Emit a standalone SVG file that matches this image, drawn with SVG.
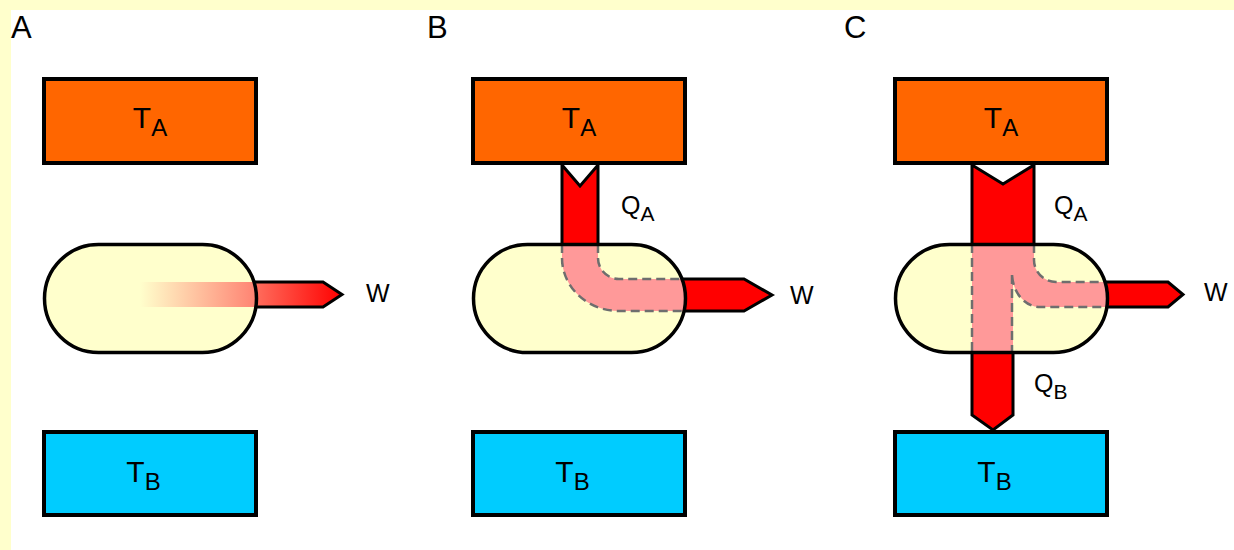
<svg xmlns="http://www.w3.org/2000/svg" width="1234" height="550" viewBox="0 0 1234 550">
<style>
.hot{fill:#ff6600;stroke:#000;stroke-width:4}
.cold{fill:#00ccff;stroke:#000;stroke-width:4}
.capf{fill:#ffffcc}
.caps{fill:none;stroke:#000;stroke-width:3.5}
.arr{fill:#ff0000;stroke:#000;stroke-width:3;stroke-linejoin:miter}
.band{fill:#ff9999}
.dash{fill:none;stroke:#6e6e6e;stroke-width:2.5;stroke-dasharray:9 5}
.lbl{font-family:"Liberation Sans",Arial,sans-serif;fill:#000}
.big{font-size:30px}
.flow{font-size:25px}
.pan{font-size:31px}
</style>
<defs>
<linearGradient id="gIn" gradientUnits="userSpaceOnUse" x1="140" y1="0" x2="258" y2="0"><stop offset="0" stop-color="#ffffcc"/><stop offset="1" stop-color="#ff8070"/></linearGradient>
<linearGradient id="gOut" gradientUnits="userSpaceOnUse" x1="258" y1="0" x2="342" y2="0"><stop offset="0" stop-color="#ff6a5a"/><stop offset="1" stop-color="#ff0000"/></linearGradient>
<clipPath id="cA"><rect x="44.5" y="244.5" width="212" height="108" rx="54"/></clipPath>
<clipPath id="cB"><rect x="473.5" y="244.5" width="212" height="108" rx="54"/></clipPath>
<clipPath id="cC"><rect x="895.5" y="244.5" width="212" height="108" rx="54"/></clipPath>
</defs>
<rect x="0" y="0" width="1234" height="550" fill="#ffffcc"/>
<rect x="11" y="10" width="1223" height="540" fill="#ffffff"/>

<g id="panel-labels" class="lbl pan">
<text x="11" y="38">A</text>
<text x="427" y="38">B</text>
<text x="844" y="38">C</text>
</g>

<!-- reservoirs -->
<g id="TA-A"><rect class="hot" x="44" y="79" width="212" height="84"/><text class="lbl big" x="150" y="128" text-anchor="middle">T<tspan font-size="24" dy="8">A</tspan></text></g>
<g id="TB-A"><rect class="cold" x="44" y="432" width="212" height="83"/><text class="lbl big" x="143.5" y="482" text-anchor="middle">T<tspan font-size="24" dy="8">B</tspan></text></g>
<g id="TA-B"><rect class="hot" x="473" y="79" width="212" height="84"/><text class="lbl big" x="579" y="128" text-anchor="middle">T<tspan font-size="24" dy="8">A</tspan></text></g>
<g id="TB-B"><rect class="cold" x="473" y="432" width="212" height="83"/><text class="lbl big" x="572.5" y="482" text-anchor="middle">T<tspan font-size="24" dy="8">B</tspan></text></g>
<g id="TA-C"><rect class="hot" x="895" y="79" width="212" height="84"/><text class="lbl big" x="1001" y="128" text-anchor="middle">T<tspan font-size="24" dy="8">A</tspan></text></g>
<g id="TB-C"><rect class="cold" x="895" y="432" width="212" height="83"/><text class="lbl big" x="994.5" y="482" text-anchor="middle">T<tspan font-size="24" dy="8">B</tspan></text></g>

<!-- connectors (outer arrows) -->
<g id="connectors">
<polygon points="240,282 323,282 342,294.5 323,307 240,307" fill="url(#gOut)" stroke="#000" stroke-width="3"/>
<polygon class="arr" points="562,165 580,186 598,165 598,262 562,262"/>
<polygon class="arr" points="660,279 744,279 772,295 744,311 660,311"/>
<polygon class="arr" points="972,165 1003,184 1034,165 1034,262 972,262"/>
<polygon class="arr" points="972,330 1013,330 1013,415 993,430 972,415"/>
<polygon class="arr" points="1080,282 1168,282 1183,294.5 1168,307 1080,307"/>
</g>

<!-- engines -->
<g id="engine-A">
<rect class="capf" x="44.5" y="244.5" width="212" height="108" rx="54"/>
<rect x="140" y="282" width="125" height="25" fill="url(#gIn)" clip-path="url(#cA)"/>
<rect class="caps" x="44.5" y="244.5" width="212" height="108" rx="54"/>
</g>
<g id="engine-B">
<rect class="capf" x="473.5" y="244.5" width="212" height="108" rx="54"/>
<g clip-path="url(#cB)">
<path class="band" d="M562,230 L598,230 L598,258 A21,21 0 0 0 619,279 L700,279 L700,311 L619,311 A57,53 0 0 1 562,258 Z"/>
<path class="dash" d="M562,244 L562,258 A57,53 0 0 0 619,311 L700,311"/>
<path class="dash" d="M598,244 L598,258 A21,21 0 0 0 619,279 L700,279"/>
</g>
<rect class="caps" x="473.5" y="244.5" width="212" height="108" rx="54"/>
</g>
<g id="engine-C">
<rect class="capf" x="895.5" y="244.5" width="212" height="108" rx="54"/>
<g clip-path="url(#cC)">
<rect class="band" x="972" y="230" width="41" height="140"/>
<path class="band" d="M1012,230 L1034,230 L1034,260 A22,22 0 0 0 1056,282 L1120,282 L1120,307 L1040,307 A28,34 0 0 1 1012,273 Z"/>
<path class="dash" d="M972,244 L972,354"/>
<path class="dash" d="M1012,354 L1012,273 A28,34 0 0 0 1040,307 L1120,307"/>
<path class="dash" d="M1034,244 L1034,260 A22,22 0 0 0 1056,282 L1120,282"/>
</g>
<rect class="caps" x="895.5" y="244.5" width="212" height="108" rx="54"/>
</g>

<!-- flow labels -->
<g id="flow-labels" class="lbl flow">
<text x="366" y="302">W</text>
<text x="621" y="214">Q<tspan font-size="21" dy="7">A</tspan></text>
<text x="790" y="304">W</text>
<text x="1054" y="214">Q<tspan font-size="21" dy="7">A</tspan></text>
<text x="1034" y="392">Q<tspan font-size="21" dy="7">B</tspan></text>
<text x="1204" y="301">W</text>
</g>
</svg>
